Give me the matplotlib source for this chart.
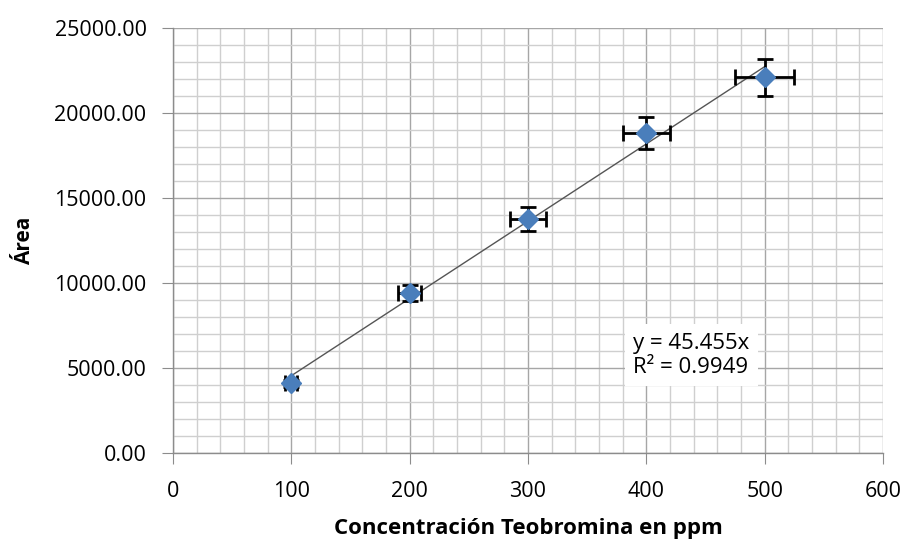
import matplotlib
matplotlib.use("Agg")
import matplotlib.pyplot as plt
from matplotlib.ticker import MultipleLocator, FormatStrFormatter

conc = [100, 200, 300, 400, 500]
area = [4110, 9420, 13760, 18820, 22100]
x_err = [5, 10, 15, 20, 25]
y_err = [205, 470, 690, 940, 1105]
slope = 45.455
r2 = 0.9949

plt.rcParams['font.family'] = ['Open Sans', 'DejaVu Sans']

fig = plt.figure(figsize=(9.07, 5.40), dpi=100)
ax = fig.add_axes([0.1907, 0.1611, 0.7828, 0.7870])

ax.set_xlim(0, 600)
ax.set_ylim(0, 25000)
ax.xaxis.set_major_locator(MultipleLocator(100))
ax.xaxis.set_minor_locator(MultipleLocator(20))
ax.yaxis.set_major_locator(MultipleLocator(5000))
ax.yaxis.set_minor_locator(MultipleLocator(1000))
ax.yaxis.set_major_formatter(FormatStrFormatter('%.2f'))

ax.grid(which='major', color='#a6a6a6', lw=1.0)
ax.grid(which='minor', color='#cfcfcf', lw=1.0)
ax.set_axisbelow(True)
for s in ['top', 'right']:
    ax.spines[s].set_visible(False)
for s in ['left', 'bottom']:
    ax.spines[s].set_color('#8c8c8c')
    ax.spines[s].set_linewidth(1.0)
ax.tick_params(which='major', length=8, color='#8c8c8c', labelsize=15.5, pad=11)
ax.tick_params(which='minor', length=0)
ax.tick_params(axis='x', pad=12)

xs = [min(conc), max(conc)]
ax.plot(xs, [slope * v for v in xs], color='#555555', lw=1.0, zorder=2)

ax.errorbar(conc, area, xerr=x_err, yerr=y_err, fmt='none', ecolor='black',
            elinewidth=2, capsize=6, capthick=2, zorder=3)
ax.plot(conc, area, linestyle='none', marker='D', markersize=10,
        color='#4a7ebb', zorder=4)

ax.text(389, 5750, f"y = {slope}x\nR² = {r2}", fontsize=16, linespacing=1.2,
        va='center', ha='left',
        bbox=dict(facecolor='white', edgecolor='none', pad=6), zorder=5)

ax.set_xlabel('Concentración Teobromina en ppm', fontsize=16, fontweight='bold', labelpad=12)
ax.set_ylabel('Área', fontsize=15, fontweight='bold', labelpad=14)

fig.savefig('out.png', dpi=100)
